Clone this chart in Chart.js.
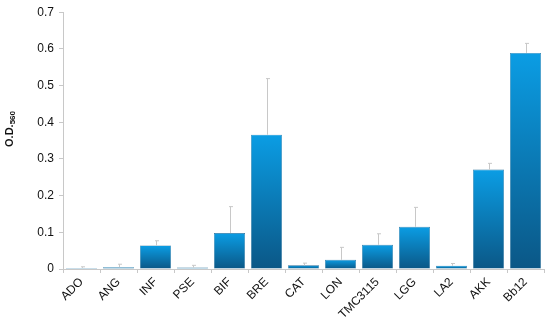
<!DOCTYPE html>
<html>
<head>
<meta charset="utf-8">
<script src="https://cdn.jsdelivr.net/npm/chart.js@4.4.0/dist/chart.umd.min.js"></script>
</head>
<body style="margin:0; background:#fff">
<canvas id="odChart" width="550" height="324"></canvas>
<script>
// данные
const strains = ["ADO", "ANG", "INF", "PSE", "BIF", "BRE", "CAT", "LON", "TMC3115", "LGG", "LA2", "AKK", "Bb12"];
const odValues = [0.003, 0.005, 0.064, 0.004, 0.098, 0.366, 0.010, 0.025, 0.066, 0.115, 0.009, 0.271, 0.589];
const odErrors = [0.003, 0.008, 0.013, 0.006, 0.072, 0.153, 0.006, 0.034, 0.030, 0.053, 0.006, 0.017, 0.026];
const yTicks = [0, 0.1, 0.2, 0.3, 0.4, 0.5, 0.6, 0.7];

const FONT = "'Liberation Sans'";

// градиент для каждого столбца отдельно: светлый сверху, тёмный снизу
function barGradient(ctx) {
  const chart = ctx.chart;
  const y = chart.scales.y;
  if (!y || ctx.dataIndex === undefined) return "#0d6aa3";
  const top = y.getPixelForValue(odValues[ctx.dataIndex]);
  const bottom = y.getPixelForValue(0);
  if (!isFinite(top) || !isFinite(bottom) || bottom - top < 1) return "#0b5f93";
  const g = chart.ctx.createLinearGradient(0, top, 0, bottom);
  g.addColorStop(0, "#0b9de4");
  g.addColorStop(1, "#0b5786");
  return g;
}

// усы погрешности (только вверх)
const errorBars = {
  id: "errorBars",
  afterDatasetsDraw(chart) {
    const ctx = chart.ctx;
    const y = chart.scales.y;
    const meta = chart.getDatasetMeta(0);
    ctx.save();
    ctx.strokeStyle = "#c8c8c8";
    ctx.lineWidth = 1;
    meta.data.forEach((bar, i) => {
      const x = Math.round(bar.x) + 0.5;
      const yTop = y.getPixelForValue(odValues[i] + odErrors[i]);
      const yVal = y.getPixelForValue(odValues[i]);
      ctx.beginPath();
      ctx.moveTo(x, yVal);
      ctx.lineTo(x, yTop);
      ctx.moveTo(x - 1.5, yTop);
      ctx.lineTo(x + 2.5, yTop);
      ctx.stroke();
    });
    ctx.restore();
  }
};

// подпись оси Y с нижним индексом
const yTitle = {
  id: "yTitle",
  afterDraw(chart) {
    const ctx = chart.ctx;
    ctx.save();
    ctx.translate(10, 129);
    ctx.rotate(-Math.PI / 2);
    ctx.fillStyle = "#111";
    ctx.textBaseline = "middle";
    ctx.font = "bold 11px " + FONT;
    const main = "O.D.";
    const w = ctx.measureText(main).width;
    ctx.font = "bold 8px " + FONT;
    const sw = ctx.measureText("560").width;
    const start = -(w + sw) / 2;
    ctx.font = "bold 11px " + FONT;
    ctx.textAlign = "left";
    ctx.fillText(main, start, 0);
    ctx.font = "bold 8px " + FONT;
    ctx.fillText("560", start + w, 3);
    ctx.restore();
  }
};

const chart = new Chart(document.getElementById("odChart"), {
  type: "bar",
  data: {
    labels: strains,
    datasets: [{
      data: odValues,
      backgroundColor: barGradient,
      borderColor: "#2b6f99",
      borderWidth: 0.6,
      barPercentage: 0.84,
      categoryPercentage: 1.0
    }]
  },
  options: {
    responsive: false,
    animation: false,
    layout: { padding: { top: 4, right: 6, left: 0, bottom: 0 } },
    plugins: {
      legend: { display: false },
      tooltip: { enabled: false }
    },
    scales: {
      x: {
        grid: {
          display: true,
          drawOnChartArea: false,
          drawTicks: true,
          tickLength: 4,
          color: "#c8c8c8"
        },
        border: { color: "#c8c8c8" },
        ticks: {
          autoSkip: false,
          minRotation: 45,
          maxRotation: 45,
          padding: 2,
          color: "#111",
          font: { family: FONT, size: 12 }
        },
        afterFit(scale) { scale.height = 55; }
      },
      y: {
        min: 0,
        max: 0.7,
        afterBuildTicks(scale) { scale.ticks = yTicks.map(v => ({ value: v })); },
        grid: {
          drawOnChartArea: false,
          drawTicks: true,
          tickLength: 4,
          color: "#c8c8c8"
        },
        border: { color: "#c8c8c8" },
        ticks: {
          padding: 5,
          color: "#111",
          font: { family: FONT, size: 12 },
          callback: v => String(Math.round(v * 10) / 10)
        },
        afterFit(scale) { scale.width = 63; }
      }
    }
  },
  plugins: [errorBars, yTitle]
});
</script>
</body>
</html>
